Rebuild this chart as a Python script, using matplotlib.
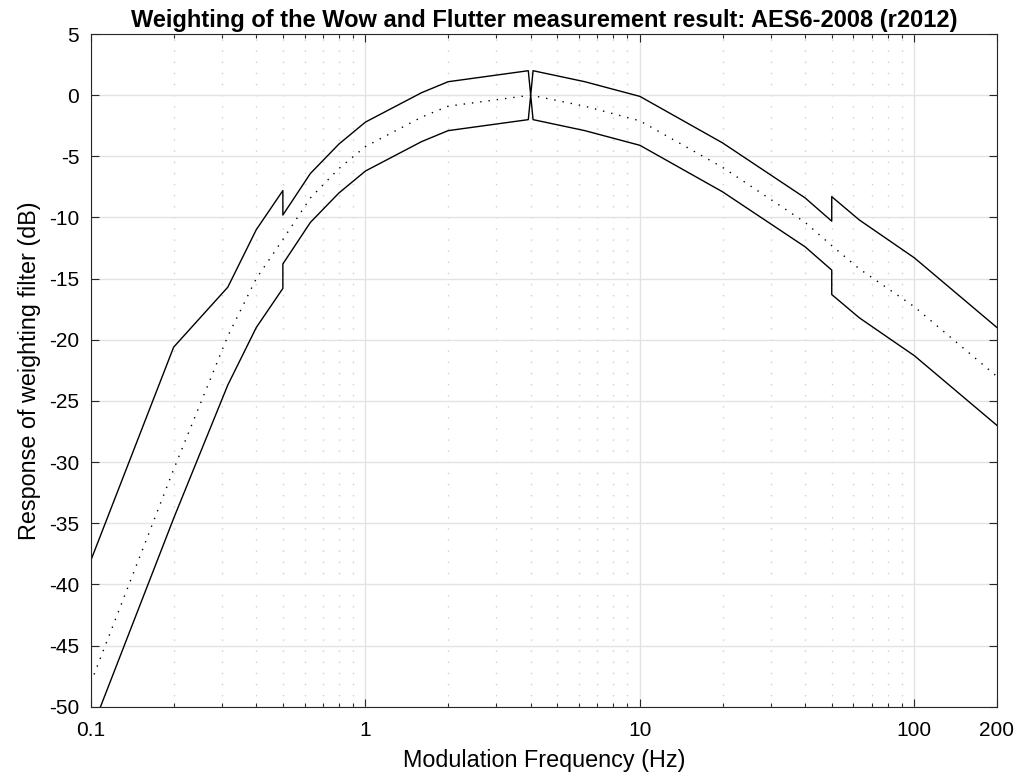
import matplotlib
matplotlib.use("Agg")
import matplotlib.pyplot as plt
from matplotlib.ticker import FixedLocator, NullFormatter

plt.rcParams['font.family'] = ['Liberation Sans', 'DejaVu Sans']
plt.rcParams['axes.unicode_minus'] = False

# Nominal weighting response (dB) at the tabulated frequencies (Hz)
nom_freq = [0.1, 0.2, 0.315, 0.4, 0.5, 0.63, 0.8, 1.0, 1.6, 2.0, 4.0,
            6.3, 10.0, 20.0, 40.0, 50.0, 63.0, 100.0, 200.0]
nom_db = [-48.0, -30.6, -19.7, -15.0, -11.8, -8.4, -6.0, -4.2, -1.8, -0.9, 0.0,
          -0.9, -2.1, -5.9, -10.4, -12.3, -14.2, -17.3, -23.0]

# Upper tolerance limit
upper_freq = [0.1, 0.2, 0.315, 0.4, 0.5, 0.5, 0.63, 0.8, 1.0, 1.6, 2.0, 3.92, 4.0, 4.08,
              6.3, 10.0, 20.0, 40.0, 50.0, 50.0, 63.0, 100.0, 200.0]
upper_db = [-38.0, -20.6, -15.7, -11.0, -7.8, -9.8, -6.4, -4.0, -2.2, 0.2, 1.1, 2.0, 0.0, 2.0,
            1.1, -0.1, -3.9, -8.4, -10.3, -8.3, -10.2, -13.3, -19.0]

# Lower tolerance limit
lower_freq = [0.1, 0.2, 0.315, 0.4, 0.5, 0.5, 0.63, 0.8, 1.0, 1.6, 2.0, 3.92, 4.0, 4.08,
              6.3, 10.0, 20.0, 40.0, 50.0, 50.0, 63.0, 100.0, 200.0]
lower_db = [-52.0, -34.6, -23.7, -19.0, -15.8, -13.8, -10.4, -8.0, -6.2, -3.8, -2.9, -2.0, 0.0, -2.0,
            -2.9, -4.1, -7.9, -12.4, -14.3, -16.3, -18.2, -21.3, -27.0]

xticks = [0.1, 1, 10, 100, 200]
xtick_labels = ["0.1", "1", "10", "100", "200"]
yticks = list(range(-50, 6, 5))

fig = plt.figure(figsize=(10.24, 7.84), dpi=100)
ax = fig.add_axes([0.0889, 0.0986, 0.9736 - 0.0889, 0.9566 - 0.0986])

ax.plot(upper_freq, upper_db, color='black', lw=1.0)
ax.plot(nom_freq, nom_db, color='black', lw=1.0, linestyle=(0, (1, 5)))
ax.plot(lower_freq, lower_db, color='black', lw=1.0)

ax.set_xscale('log')
ax.set_xlim(0.1, 200)
ax.set_ylim(-50, 5)

minor = []
for dec in [0.1, 1, 10, 100]:
    for m in range(2, 10):
        v = dec * m
        if v < 200:
            minor.append(v)
ax.xaxis.set_major_locator(FixedLocator(xticks))
ax.set_xticklabels(xtick_labels)
ax.xaxis.set_minor_locator(FixedLocator(minor))
ax.xaxis.set_minor_formatter(NullFormatter())
ax.set_yticks(yticks)
ax.set_yticklabels([str(v) for v in yticks])

ax.grid(True, which='major', color='#e3e3e3', lw=1.0, linestyle='-')
ax.grid(True, which='minor', axis='x', color='#cfcfcf', lw=1.0, linestyle=(0, (1, 7)))
ax.set_axisbelow(True)

ax.tick_params(which='both', direction='in', top=True, right=True, labelsize=15,
               colors='#262626', labelcolor='black', width=0.8)
ax.tick_params(which='major', length=6)
ax.tick_params(which='minor', length=3)
ax.tick_params(axis='x', pad=10)
ax.tick_params(axis='y', pad=8.5)
for s in ax.spines.values():
    s.set_color('#262626')
    s.set_linewidth(0.8)

ax.set_title("Weighting of the Wow and Flutter measurement result: AES6-2008 (r2012)",
             fontsize=17, fontweight='bold', pad=5)
ax.set_xlabel("Modulation Frequency (Hz)", fontsize=16.8, labelpad=7)
ax.set_ylabel("Response of weighting filter (dB)", fontsize=16.8, labelpad=6)

fig.savefig("out.png", dpi=100)
